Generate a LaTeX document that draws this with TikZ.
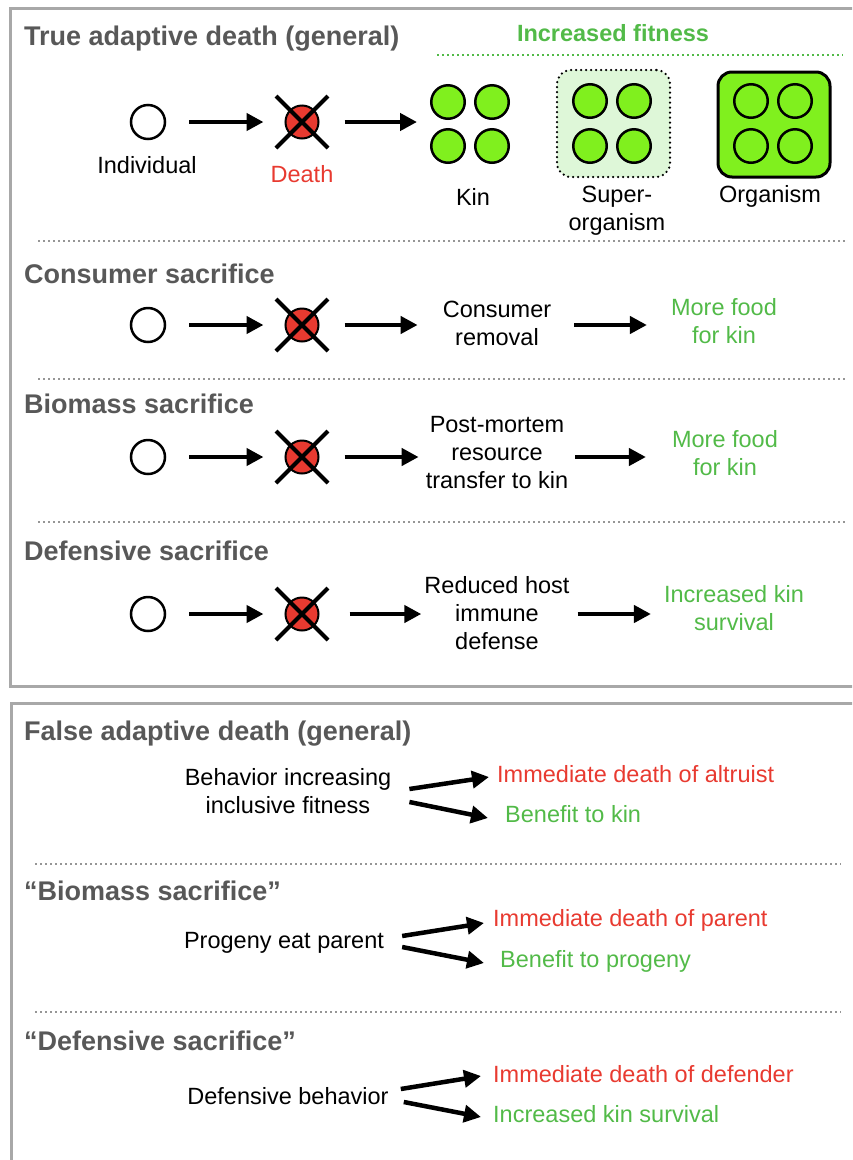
\documentclass[tikz,border=0pt]{standalone}
\usepackage{fontspec}
\setmainfont{Liberation Sans}
\usetikzlibrary{calc,arrows.meta}
\definecolor{titlegray}{RGB}{88,88,88}
\definecolor{deathred}{RGB}{232,58,48}
\definecolor{fitgreen}{RGB}{82,186,72}
\definecolor{cellgreen}{RGB}{128,240,30}
\definecolor{palegreen}{RGB}{222,247,216}
\definecolor{boxgray}{RGB}{168,168,168}
\definecolor{sepgray}{RGB}{150,150,150}
\newcommand{\bodyfont}{\fontsize{23.5}{28}\selectfont}
\newcommand{\headfont}{\fontsize{27}{32}\selectfont\bfseries}

\begin{document}
\begin{tikzpicture}[x=1pt, y=-1pt,
    every node/.style={inner sep=0pt, font=\bodyfont},
    head/.style={anchor=base west, font=\headfont, text=titlegray},
    txt/.style={anchor=base, align=center},
    note/.style={anchor=base west},
    indiv/.style={circle, draw, line width=2.5pt, fill=white, minimum size=34pt},
    dead/.style={circle, draw, line width=2pt, fill=deathred, minimum size=33pt},
    cross/.style={line width=4pt},
    cell/.style={circle, draw, line width=2.5pt, fill=cellgreen, minimum size=33.5pt},
    superbox/.style={draw, line width=2.5pt, line cap=round, dash pattern=on 0pt off 5pt,
      fill=palegreen, rounded corners=14pt, minimum width=113pt, minimum height=107pt},
    orgbox/.style={draw, line width=3pt, fill=cellgreen, rounded corners=14pt,
      minimum width=112pt, minimum height=105pt},
    arr/.style={line width=4.5pt, -{Triangle[length=17pt,width=17pt]}},
    sep/.style={sepgray, line width=2pt, dash pattern=on 2pt off 3pt},
    frame/.style={draw=boxgray, line width=3pt}]
  \useasboundingbox (0,0) rectangle (852,1160);
  \clip (0,0) rectangle (852,1160);

  % true adaptive death
  \draw[frame] (10,8) rectangle (880,686);
  \node[head] (truehd) at (24,45) {True adaptive death (general)};
  \node[anchor=base, font=\bodyfont\bfseries, text=fitgreen] (fithd) at (613,41) {Increased fitness};
  \draw[fitgreen, line width=2pt, dash pattern=on 2pt off 3pt] (437,55) -- (843,55);

  \foreach \n/\y in {1/122,2/325,3/457,4/614} {
    \node[indiv] (ind\n) at (148,\y) {};
    \node[dead] (dth\n) at (302,\y) {};
    \draw[cross] ($(dth\n)+(-26,-26)$) -- ($(dth\n)+(26,26)$)
                 ($(dth\n)+(-26,26)$) -- ($(dth\n)+(26,-26)$);
    \draw[arr, shorten <=23pt, shorten >=21pt] (ind\n) -- (dth\n);
  }
  \node[txt] (indlbl) at (147,173) {Individual};
  \node[txt, text=deathred] (dthlbl) at (302,182) {Death};

  \node[superbox] (super) at (613.5,123.5) {};
  \node[orgbox] (organism) at (774,124.5) {};
  \foreach \dx/\dy [count=\k] in {0/0,1/0,0/1,1/1} {
    \node[cell] (kin\k) at (448+44*\dx,102+44*\dy) {};
    \node[cell] (sup\k) at (590+44*\dx,101+45*\dy) {};
    \node[cell] (org\k) at (751+44*\dx,101+45*\dy) {};
  }
  \node[txt] (kinlbl) at (473,205) {Kin};
  \node[txt] (suplbl) at (617,230) {Super-\\organism};
  \node[txt] (orglbl) at (770,202) {Organism};
  \coordinate (kinw) at (431,122);
  \draw[arr, shorten <=25pt, shorten >=14pt] (dth1) -- (kinw);

  \draw[sep] (38,241) -- (845,241);
  \draw[sep] (38,379) -- (845,379);
  \draw[sep] (38,522) -- (845,522);

  % the three sacrifices
  \node[head] (conshd) at (24,283) {Consumer sacrifice};
  \node[head] (biohd) at (24,413) {Biomass sacrifice};
  \node[head] (defhd) at (24,560) {Defensive sacrifice};

  \node[txt] (cons) at (497,345) {Consumer\\removal};
  \node[txt, text=fitgreen] (food2) at (724,343) {More food\\for kin};
  \node[txt] (post) at (497,488) {Post-mortem\\resource\\transfer to kin};
  \node[txt, text=fitgreen] (food3) at (725,475) {More food\\for kin};
  \node[txt] (immune) at (497,649) {Reduced host\\immune\\defense};
  \node[txt, text=fitgreen] (surv) at (734,630) {Increased kin\\survival};

  \draw[arr, shorten <=25pt, shorten >=25pt] (dth2) -- (dth2 -| cons.west);
  \draw[arr, shorten <=23pt, shorten >=24pt] (cons.east |- dth2) -- (dth2 -| food2.west);
  \draw[arr, shorten <=25pt, shorten >=7pt] (dth3) -- (dth3 -| post.west);
  \draw[arr, shorten <=7pt, shorten >=26pt] (post.east |- dth3) -- (dth3 -| food3.west);
  \draw[arr, shorten <=30pt, shorten >=3pt] (dth4) -- (dth4 -| immune.west);
  \draw[arr, shorten <=8pt, shorten >=13pt] (immune.east |- dth4) -- (dth4 -| surv.west);

  % false adaptive death
  \draw[frame] (11,703) rectangle (880,1180);
  \node[head] (falsehd) at (24,740) {False adaptive death (general)};
  \node[txt] (behav) at (288,813) {Behavior increasing\\inclusive fitness};
  \node[note, text=deathred] (altru) at (497,782) {Immediate death of altruist};
  \node[note, text=fitgreen] (kinben) at (505,822) {Benefit to kin};
  \draw[arr] ($(behav.base east)+(18,-24)$) -- ($(altru.base west)+(-8,-5)$);
  \draw[arr] ($(behav.base east)+(18,-11)$) -- ($(kinben.base west)+(-17,-4)$);

  \draw[sep] (35,864) -- (841,864);
  \node[head] (biohd2) at (24,900) {“Biomass sacrifice”};
  \node[txt] (progeny) at (284,948) {Progeny eat parent};
  \node[note, text=deathred] (parent) at (493,926) {Immediate death of parent};
  \node[note, text=fitgreen] (progben) at (500,967) {Benefit to progeny};
  \draw[arr] ($(progeny.base east)+(18,-12)$) -- ($(parent.base west)+(-9,-3)$);
  \draw[arr] ($(progeny.base east)+(18,-1)$) -- ($(progben.base west)+(-16,-4)$);

  \draw[sep] (35,1012) -- (841,1012);
  \node[head] (defhd2) at (24,1050) {“Defensive sacrifice”};
  \node[txt] (defbeh) at (288,1104) {Defensive behavior};
  \node[note, text=deathred] (defender) at (493,1082) {Immediate death of defender};
  \node[note, text=fitgreen] (defsurv) at (493,1122) {Increased kin survival};
  \draw[arr] ($(defbeh.base east)+(12,-15)$) -- ($(defender.base west)+(-12,-6)$);
  \draw[arr] ($(defbeh.base east)+(15,-2)$) -- ($(defsurv.base west)+(-12,-5)$);
\end{tikzpicture}
\end{document}
